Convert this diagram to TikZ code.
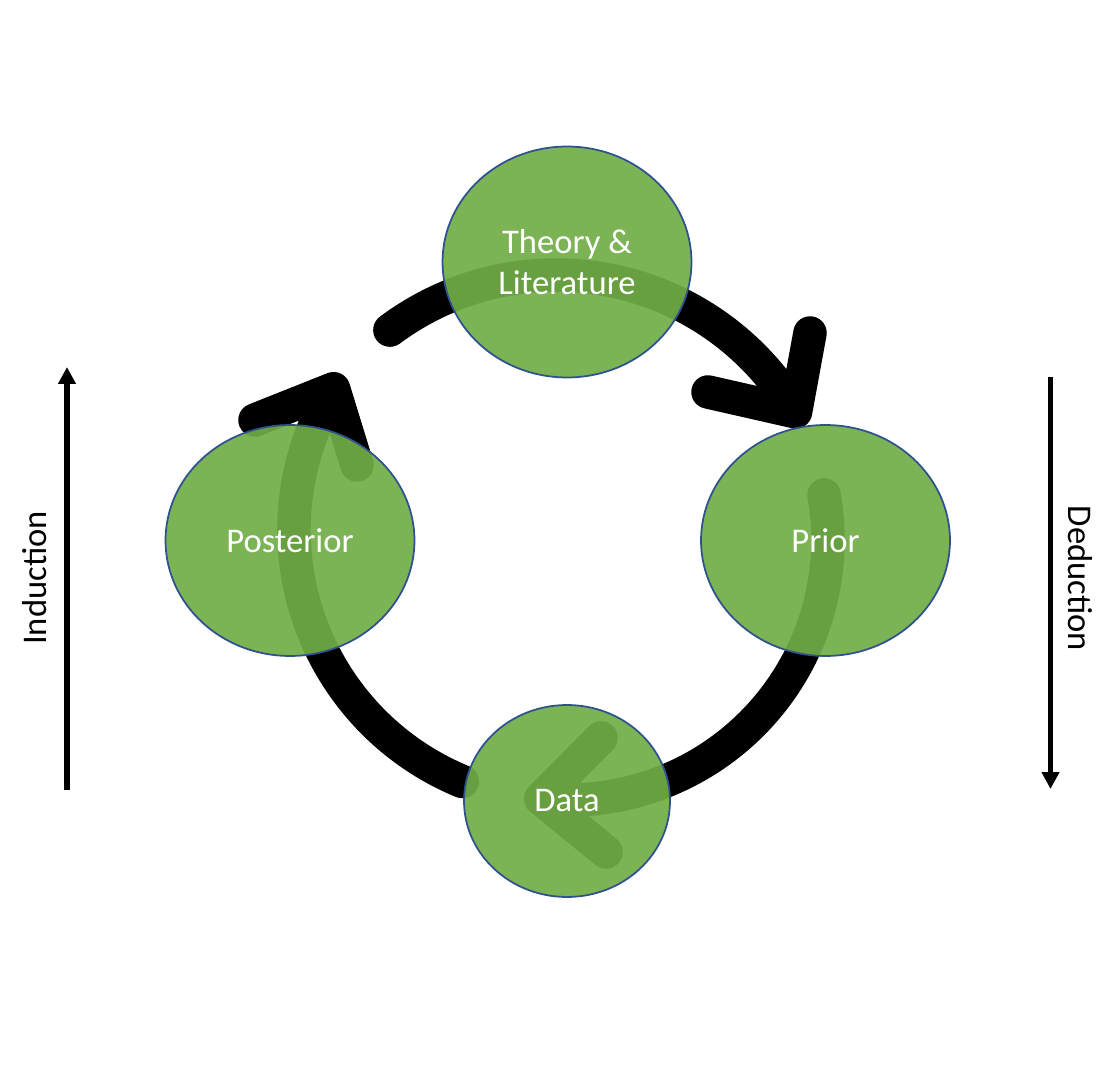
\documentclass[tikz,border=0pt]{standalone}
\usepackage{fontspec}
\setmainfont{Carlito}
\usetikzlibrary{shapes.geometric,arrows.meta}
\definecolor{stagegreen}{HTML}{70AD47}
\definecolor{stageblue}{HTML}{2F528F}

\begin{document}
\begin{tikzpicture}[x=0.02cm, y=0.02cm,
	stage/.style={ellipse, draw=stageblue, line width=1pt, fill=stagegreen, fill opacity=0.92, text opacity=1, text=white, inner sep=0pt, minimum width=4.98cm, minimum height=4.62cm, align=center, font=\fontsize{19.7}{23.5}\selectfont},
	cyclearc/.style={line width=0.67cm, line cap=round, line join=round},
	sidearrow/.style={line width=3.4pt, -{Triangle[width=0.34cm,length=0.34cm]}},
	sidelabel/.style={font=\fontsize{19.7}{23.5}\selectfont}]
	\useasboundingbox (0,0) rectangle (1116,1080);
	% Cycle arcs with open heads
	\coordinate (topstart) at (389.9,749.9);
	\coordinate (toparmA) at (708,688);
	\coordinate (toparmB) at (810,747);
	\draw[cyclearc] (topstart) arc[start angle=126.7, end angle=30.5, radius=278] coordinate (toptip) -- (toparmA) (toptip) -- (toparmB);
	\coordinate (rightstart) at (824,585.1);
	\coordinate (datarmA) at (601,342);
	\coordinate (datarmB) at (606,228);
	\draw[cyclearc] (rightstart) arc[start angle=10, end angle=-96, radius=260] coordinate (datatip) -- (datarmA) (datatip) -- (datarmB);
	\coordinate (leftstart) at (462.3,298.5);
	\coordinate (postarmA) at (255,660);
	\coordinate (postarmB) at (357,615);
	\draw[cyclearc] (leftstart) arc[start angle=-112.4, end angle=-211.3, radius=272] coordinate (posttip) -- (postarmA) (posttip) -- (postarmB);
	% Stages
	\node[stage] (theory) at (567,818) {Theory \&\\Literature};
	\node[stage] (prior) at (825.5,539.5) {Prior};
	\node[stage] (posterior) at (290,539.5) {Posterior};
	\node[stage, minimum width=4.12cm, minimum height=3.84cm] (data) at (567,279) {Data};
	% Side arrows
	\coordinate (indlow) at (67,290);
	\coordinate (indhigh) at (67,713);
	\draw[sidearrow] (indlow) -- (indhigh);
	\node[sidelabel, rotate=90] (induction) at (35,502) {Induction};
	\coordinate (dedhigh) at (1050.5,703);
	\coordinate (dedlow) at (1050.5,291);
	\draw[sidearrow] (dedhigh) -- (dedlow);
	\node[sidelabel, rotate=-90] (deduction) at (1080,501.5) {Deduction};
\end{tikzpicture}
\end{document}
